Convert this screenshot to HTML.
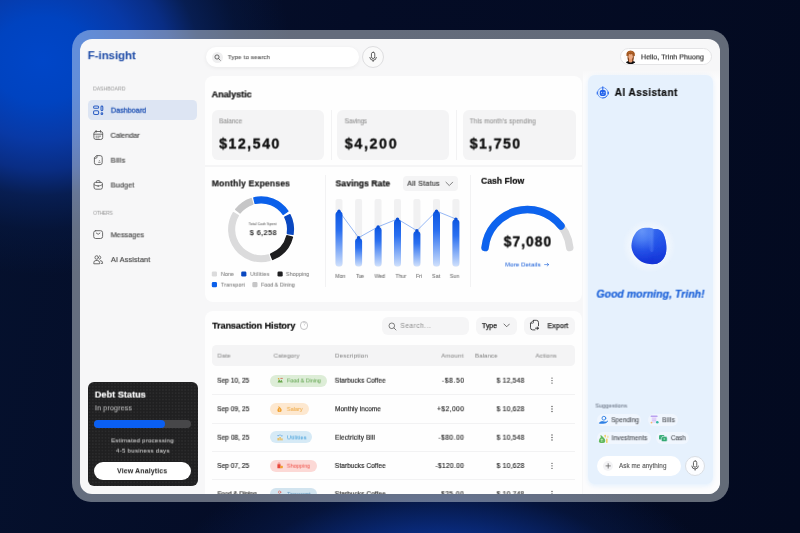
<!DOCTYPE html>
<html><head><meta charset="utf-8">
<style>
*{margin:0;padding:0;box-sizing:border-box}
html,body{width:800px;height:533px;overflow:hidden}
body{position:relative;font-family:"Liberation Sans",sans-serif;background:
 radial-gradient(ellipse 250px 215px at 42px 60px, #0046c8 0%, #0043c0 20%, #0839a6 37%, #092d84 51%, rgba(8,32,88,.85) 63%, rgba(6,24,66,.55) 79%, rgba(4,12,36,0) 100%),
 radial-gradient(ellipse 270px 120px at 440px 575px, #0b3aa8 0%, rgba(10,48,140,.85) 35%, rgba(8,30,85,.45) 70%, rgba(4,11,34,0) 100%),
 linear-gradient(100deg,#05112e 0%, #040c26 40%, #030a20 100%);}
.abs,.t,#page div,#page svg{position:absolute}
.t{left:0;top:0;white-space:pre;line-height:1;transform-origin:0 0;will-change:transform}
#frame{position:absolute;left:71.5px;top:30.2px;width:657.6px;height:472.3px;border-radius:19px;background:rgba(248,255,255,.395)}
#app{position:absolute;left:80px;top:38.8px;width:639.8px;height:455px;border-radius:12px;background:#f7f7f8;overflow:hidden}
#page{position:absolute;left:-80px;top:-38.8px;width:800px;height:533px}
.panel{background:#fefefe;border-radius:8px}
.card{background:#f4f4f5;border-radius:6px}
.pill{border-radius:99px}
</style></head>
<body>
<div id="frame"></div>
<div id="app"><div id="page">

<!-- header -->
<div class="pill" style="left:205.5px;top:47px;width:153px;height:20px;background:#fff;box-shadow:0 1px 4px rgba(0,0,0,.06)"></div>
<div class="pill" style="left:211.5px;top:51.5px;width:11px;height:11px;background:#efeff0"></div>
<svg style="left:213.5px;top:53.5px" width="7" height="7" viewBox="0 0 14 14"><circle cx="6" cy="6" r="4.2" fill="none" stroke="#444" stroke-width="1.5"/><path d="M9.2 9.2 L12.5 12.5" stroke="#444" stroke-width="1.5" stroke-linecap="round"/></svg>
<div class="pill" style="left:362.3px;top:46.2px;width:21.5px;height:21.5px;background:#fafafa;border:.8px solid #dedee0"></div>
<svg style="left:0;top:0" width="800" height="533" viewBox="0 0 800 533" fill="none" stroke="#3a3a3a" stroke-linecap="round" stroke-linejoin="round"><rect x="371.45" y="52.2" width="3.3" height="6.3" rx="1.65" stroke-width=".8" fill="#fff"/><path d="M369.8 57.4 Q370 60.2 373.1 60.3 Q376.2 60.2 376.4 57.4 M373.1 60.4 V61.5" stroke-width=".8"/></svg>
<div class="pill" style="left:619.5px;top:48.3px;width:92.5px;height:16.8px;background:#fff;border:1px solid #e4e4e6"></div>
<svg style="left:623.6px;top:49.8px" width="13.2" height="14.4" viewBox="623.6 49.8 13.2 14.4">
<defs><clipPath id="avc"><ellipse cx="630.2" cy="57" rx="6.5" ry="7.1"/></clipPath></defs>
<ellipse cx="630.2" cy="57" rx="6.5" ry="7.1" fill="#fdfbf9"/>
<g clip-path="url(#avc)">
<ellipse cx="630.3" cy="63.4" rx="5.2" ry="2.9" fill="#0e0e10"/>
<path d="M627.4 54 Q626.6 58 627.8 61.4 L629 61 L629 55 Z M633.1 54 Q634 58 632.8 61.4 L631.6 61 L631.6 55 Z" fill="#7c3c14"/>
<rect x="628.6" y="56.5" width="3.2" height="5.8" rx="1.2" fill="#e39b72"/>
<ellipse cx="630.2" cy="56.4" rx="2.3" ry="2.7" fill="#eeab82"/>
<path d="M626 55.6 Q625.6 50.4 630.2 50.2 Q634.9 50.4 634.5 55.6 Q633.6 56.6 632.6 55.2 Q631.4 53.4 630.2 54.2 Q628.8 53.4 627.8 55.2 Q626.8 56.6 626 55.6 Z" fill="#a3561e"/>
<path d="M628 52.4 Q630 50.9 632.4 52.2" stroke="#c47a3c" stroke-width=".7" fill="none"/>
</g></svg>

<!-- sidebar -->
<div style="left:88px;top:100px;width:108.8px;height:20.4px;border-radius:4.5px;background:#dde5f3"></div>

<!-- debt -->
<div id="debt" style="left:88px;top:382px;width:109.5px;height:103.6px;border-radius:6px;background-color:#202021;background-image:radial-gradient(rgba(255,255,255,.055) .55px, rgba(255,255,255,0) .8px);background-size:3.2px 3.2px"></div>
<div class="pill" style="left:94.4px;top:420px;width:96.4px;height:8.4px;background:#474749"></div>
<div class="pill" style="left:94.4px;top:420px;width:70.2px;height:8.4px;background:#0a5ff2"></div>
<div class="pill" style="left:94.4px;top:462px;width:96.4px;height:17.5px;background:#fff"></div>

<!-- top panel -->
<div class="panel" style="left:204.6px;top:76.4px;width:377px;height:225.6px"></div>
<div style="left:204.6px;top:164.5px;width:377px;height:2px;background:#f5f5f6"></div>
<div class="card" style="left:212px;top:110px;width:112px;height:50px"></div>
<div class="card" style="left:337px;top:110px;width:112px;height:50px"></div>
<div class="card" style="left:462.8px;top:110px;width:112.8px;height:50px"></div>
<div style="left:330.5px;top:110px;width:1px;height:50px;background:#f2f2f3"></div>
<div style="left:455.5px;top:110px;width:1px;height:50px;background:#f2f2f3"></div>
<div style="left:324.5px;top:175px;width:1px;height:112px;background:#f2f2f3"></div>
<div style="left:470.3px;top:175px;width:1px;height:112px;background:#f2f2f3"></div>

<svg style="left:0;top:0" width="800" height="533" viewBox="0 0 800 533">
<path d="M253.83 197.83 A32.3 32.3 0 0 1 287.88 211.24 L283.15 214.43 A26.6 26.6 0 0 0 255.12 203.38 Z" fill="#0b60ea" stroke="#0b60ea" stroke-width="1.4" stroke-linejoin="round"/>
<path d="M289.88 214.64 A32.3 32.3 0 0 1 293.00 234.35 L287.37 233.46 A26.6 26.6 0 0 0 284.80 217.22 Z" fill="#0a48c0" stroke="#0a48c0" stroke-width="1.4" stroke-linejoin="round"/>
<path d="M292.44 237.11 A32.3 32.3 0 0 1 272.68 259.45 L270.63 254.13 A26.6 26.6 0 0 0 286.91 235.74 Z" fill="#1e1e20" stroke="#1e1e20" stroke-width="1.4" stroke-linejoin="round"/>
<path d="M270.00 260.35 A32.3 32.3 0 0 1 233.41 212.66 L238.30 215.60 A26.6 26.6 0 0 0 268.43 254.87 Z" fill="#dbdbdc" stroke="#dbdbdc" stroke-width="1.4" stroke-linejoin="round"/>
<path d="M235.65 209.41 A32.3 32.3 0 0 1 251.12 198.58 L252.88 204.00 A26.6 26.6 0 0 0 240.14 212.92 Z" fill="#c6c6c7" stroke="#c6c6c7" stroke-width="1.4" stroke-linejoin="round"/>
<rect x="211.8" y="271.4" width="5.2" height="5.2" rx="1.3" fill="#dbdbdc"/>
<rect x="241.2" y="271.4" width="5.2" height="5.2" rx="1.3" fill="#0a48c0"/>
<rect x="277.5" y="271.4" width="5.2" height="5.2" rx="1.3" fill="#1e1e20"/>
<rect x="211.8" y="282.1" width="5.2" height="5.2" rx="1.3" fill="#0b60ea"/>
<rect x="252.3" y="282.1" width="5.2" height="5.2" rx="1.3" fill="#c6c6c7"/>
<defs><linearGradient id="bg" x1="0" y1="0" x2="0" y2="1"><stop offset="0" stop-color="#0d57e2"/><stop offset=".35" stop-color="#2a6ff0"/><stop offset="1" stop-color="#cfe0fc"/></linearGradient></defs>
<rect x="335.50" y="199" width="7.0" height="67.4" rx="2" fill="#f1f1f2"/>
<rect x="355.10" y="199" width="7.0" height="67.4" rx="2" fill="#f1f1f2"/>
<rect x="374.60" y="199" width="7.0" height="67.4" rx="2" fill="#f1f1f2"/>
<rect x="394.00" y="199" width="7.0" height="67.4" rx="2" fill="#f1f1f2"/>
<rect x="413.40" y="199" width="7.0" height="67.4" rx="2" fill="#f1f1f2"/>
<rect x="433.00" y="199" width="7.0" height="67.4" rx="2" fill="#f1f1f2"/>
<rect x="452.40" y="199" width="7.0" height="67.4" rx="2" fill="#f1f1f2"/>
<polyline points="339.0,211.1 358.6,237.7 378.1,226.8 397.5,219.0 416.9,230.7 436.5,211.1 455.9,219.0" fill="none" stroke="#3f7cec" stroke-width=".55"/>
<rect x="335.50" y="211.30" width="7.0" height="55.10" rx="3.5" fill="url(#bg)"/>
<circle cx="339" cy="211.20" r="1.7" fill="#0b4fd6"/>
<rect x="355.10" y="237.90" width="7.0" height="28.50" rx="3.5" fill="url(#bg)"/>
<circle cx="358.6" cy="237.80" r="1.7" fill="#0b4fd6"/>
<rect x="374.60" y="227.05" width="7.0" height="39.35" rx="3.5" fill="url(#bg)"/>
<circle cx="378.1" cy="226.95" r="1.7" fill="#0b4fd6"/>
<rect x="394.00" y="219.20" width="7.0" height="47.20" rx="3.5" fill="url(#bg)"/>
<circle cx="397.5" cy="219.10" r="1.7" fill="#0b4fd6"/>
<rect x="413.40" y="230.90" width="7.0" height="35.50" rx="3.5" fill="url(#bg)"/>
<circle cx="416.9" cy="230.80" r="1.7" fill="#0b4fd6"/>
<rect x="433.00" y="211.30" width="7.0" height="55.10" rx="3.5" fill="url(#bg)"/>
<circle cx="436.5" cy="211.20" r="1.7" fill="#0b4fd6"/>
<rect x="452.40" y="219.20" width="7.0" height="47.20" rx="3.5" fill="url(#bg)"/>
<circle cx="455.9" cy="219.10" r="1.7" fill="#0b4fd6"/>
<path d="M485.05 247.55 A42.6 42.6 0 0 1 569.75 247.55" fill="none" stroke="#dadadb" stroke-width="7.5" stroke-linecap="round"/>
<path d="M485.05 247.55 A42.6 42.6 0 0 1 560.97 225.92" fill="none" stroke="#0d63ee" stroke-width="7.5" stroke-linecap="round"/>
<path d="M544.6 264.6 H548.6 M547.2 263.2 L548.7 264.6 L547.2 266" fill="none" stroke="#1a5fd8" stroke-width=".6" stroke-linecap="round" stroke-linejoin="round"/>
</svg>
<!--BARS-->
<!--GAUGE-->

<!-- all status -->
<div style="left:402.8px;top:176px;width:55.2px;height:14.7px;border-radius:4px;background:#f4f4f5"></div>
<svg style="left:445.2px;top:180.6px" width="8.6" height="6.1" viewBox="0 0 14 10"><path d="M1.5 2 L7 7.5 L12.5 2" fill="none" stroke="#555" stroke-width="1.2" stroke-linecap="round" stroke-linejoin="round"/></svg>

<!-- transaction panel -->
<div class="panel" style="left:204.6px;top:310.5px;width:377px;height:200px"></div>
<div class="pill" style="left:299.8px;top:321.2px;width:8.4px;height:8.4px;border:0.8px solid #c4c4c6"></div>
<div class="t" style="left:302.7px;top:323px;font-size:4.8px;color:#b8b8ba">?</div>
<div style="left:382px;top:317px;width:87.2px;height:17.6px;border-radius:6px;background:#f5f5f6"></div>
<svg style="left:387.6px;top:321.6px" width="9" height="9" viewBox="0 0 18 18"><circle cx="7.6" cy="7.6" r="5.6" fill="none" stroke="#555" stroke-width="1.5"/><path d="M12 12 L16 16" stroke="#555" stroke-width="1.5" stroke-linecap="round"/></svg>
<div style="left:476.3px;top:317px;width:40.7px;height:17.6px;border-radius:6px;background:#f5f5f6"></div>
<svg style="left:502.8px;top:323.4px" width="7.4" height="5" viewBox="0 0 14 10"><path d="M1.5 2 L7 7.5 L12.5 2" fill="none" stroke="#444" stroke-width="1.5" stroke-linecap="round" stroke-linejoin="round"/></svg>
<div style="left:524.4px;top:317px;width:50.4px;height:17.6px;border-radius:6px;background:#f5f5f6"></div>
<div style="left:212px;top:345px;width:362.8px;height:21px;border-radius:4.5px;background:#f4f4f5"></div>
<div style="left:212px;top:394.3px;width:362.8px;height:.9px;background:#f2f2f3"></div>
<div style="left:212px;top:422.6px;width:362.8px;height:.9px;background:#f2f2f3"></div>
<div style="left:212px;top:451px;width:362.8px;height:.9px;background:#f2f2f3"></div>
<div style="left:212px;top:479.4px;width:362.8px;height:.9px;background:#f2f2f3"></div>
<!-- chips -->
<div class="pill" style="left:270.1px;top:374.5px;width:57.4px;height:12px;background:#ddedd7"></div>
<div class="pill" style="left:270.1px;top:403px;width:38.6px;height:12px;background:#fde8d0"></div>
<div class="pill" style="left:270.1px;top:431.4px;width:42.4px;height:12px;background:#d6eaf6"></div>
<div class="pill" style="left:270.1px;top:459.8px;width:46.6px;height:12px;background:#fcd9d6"></div>
<div class="pill" style="left:270.1px;top:488px;width:46.6px;height:12px;background:#d2e4ef"></div>
<!--ROWICONS-->

<!-- AI panel -->
<div style="left:583px;top:70px;width:137px;height:424px;background:linear-gradient(180deg,rgba(252,252,253,0),#fcfcfd 10px)"></div>
<div style="left:587.8px;top:75px;width:125.2px;height:408.5px;border-radius:7px;background:#e6f1fd;box-shadow:0 1.5px 4px 0 rgba(228,240,253,.95)"></div>
<!-- blob -->
<svg style="left:0;top:0" width="800" height="533" viewBox="0 0 800 533">
<defs>
<radialGradient id="bl1" cx="642" cy="231" r="31" gradientUnits="userSpaceOnUse"><stop offset="0" stop-color="#6594f8"/><stop offset=".3" stop-color="#4a7cf3"/><stop offset=".62" stop-color="#2653e8"/><stop offset="1" stop-color="#1434d8"/></radialGradient>
<linearGradient id="bl2" x1="0" y1="226" x2="0" y2="265" gradientUnits="userSpaceOnUse"><stop offset="0" stop-color="#3166ee"/><stop offset=".5" stop-color="#2150e8"/><stop offset="1" stop-color="#1433d4"/></linearGradient>
<linearGradient id="bl3" x1="648" y1="0" x2="655" y2="0" gradientUnits="userSpaceOnUse"><stop offset="0" stop-color="#6f9bfa" stop-opacity="0"/><stop offset=".55" stop-color="#6f9bfa" stop-opacity=".28"/><stop offset="1" stop-color="#6f9bfa" stop-opacity="0"/></linearGradient>
<clipPath id="blc"><path d="M635.50 233.20 C636.57 231.62 637.60 230.67 638.90 229.80 C640.20 228.93 641.28 228.32 643.30 228.00 C645.32 227.68 649.28 227.73 651.00 227.90 C652.72 228.07 652.45 228.78 653.60 229.00 C654.75 229.22 656.32 228.50 657.90 229.20 C659.48 229.90 661.73 230.80 663.10 233.20 C664.47 235.60 665.67 240.15 666.10 243.60 C666.53 247.05 666.63 250.88 665.70 253.90 C664.77 256.92 662.65 259.97 660.50 261.70 C658.35 263.43 655.67 264.15 652.80 264.30 C649.93 264.45 646.18 263.90 643.30 262.60 C640.42 261.30 637.45 258.95 635.50 256.50 C633.55 254.05 632.10 250.77 631.60 247.90 C631.10 245.03 631.85 241.75 632.50 239.30 C633.15 236.85 634.43 234.78 635.50 233.20Z"/></clipPath>
<filter id="blf" x="-20%" y="-20%" width="140%" height="140%"><feGaussianBlur stdDeviation=".45"/></filter>
<radialGradient id="blg" cx="649" cy="246" r="27" gradientUnits="userSpaceOnUse"><stop offset=".6" stop-color="#fff" stop-opacity=".55"/><stop offset="1" stop-color="#fff" stop-opacity="0"/></radialGradient>
</defs>
<circle cx="649" cy="246" r="27" fill="url(#blg)"/>
<g filter="url(#blf)">
<path d="M635.50 233.20 C636.57 231.62 637.60 230.67 638.90 229.80 C640.20 228.93 641.28 228.32 643.30 228.00 C645.32 227.68 649.28 227.73 651.00 227.90 C652.72 228.07 652.45 228.78 653.60 229.00 C654.75 229.22 656.32 228.50 657.90 229.20 C659.48 229.90 661.73 230.80 663.10 233.20 C664.47 235.60 665.67 240.15 666.10 243.60 C666.53 247.05 666.63 250.88 665.70 253.90 C664.77 256.92 662.65 259.97 660.50 261.70 C658.35 263.43 655.67 264.15 652.80 264.30 C649.93 264.45 646.18 263.90 643.30 262.60 C640.42 261.30 637.45 258.95 635.50 256.50 C633.55 254.05 632.10 250.77 631.60 247.90 C631.10 245.03 631.85 241.75 632.50 239.30 C633.15 236.85 634.43 234.78 635.50 233.20Z" fill="url(#bl1)"/>
<g clip-path="url(#blc)">
<path d="M654 224 C653.2 240 652.8 252 654.2 268 H670 V224 Z" fill="url(#bl2)" opacity=".7"/>
<path d="M648 226 H655 V246 C654 254 650 254 648 246 Z" fill="url(#bl3)"/>
</g>
</g>
</svg>
<!-- suggestion chips -->
<div class="pill" style="left:597px;top:414.4px;width:44.4px;height:11.4px;background:#f0f6fe"></div>
<div class="pill" style="left:647.6px;top:414.4px;width:30.6px;height:11.4px;background:#f0f6fe"></div>
<div class="pill" style="left:597px;top:432.4px;width:53.7px;height:11.4px;background:#f0f6fe"></div>
<div class="pill" style="left:655.8px;top:432.4px;width:33px;height:11.4px;background:#f0f6fe"></div>
<!-- input -->
<div class="pill" style="left:596.5px;top:456px;width:84px;height:19.6px;background:#fff"></div>
<div class="pill" style="left:603.2px;top:460.9px;width:10px;height:10px;background:#f3f3f5"></div>
<div class="pill" style="left:684.8px;top:455.5px;width:20.6px;height:20.6px;background:#fcfdff;border:.8px solid #d9dde3"></div>
<svg style="left:0;top:0" width="800" height="533" viewBox="0 0 800 533" fill="none" stroke-linecap="round" stroke-linejoin="round">
<path d="M606 465.9 H610.4 M608.2 463.7 V468.1" stroke="#555" stroke-width=".7"/>
<!-- mic -->
<rect x="693.45" y="460.9" width="3.3" height="6.3" rx="1.65" stroke="#3a3a3a" stroke-width=".8" fill="#fff"/>
<path d="M691.8 466.1 Q692 468.9 695.1 469 Q698.2 468.9 698.4 466.1 M695.1 469.1 V470.2" stroke="#3a3a3a" stroke-width=".8"/>
<!-- spending icon -->
<circle cx="603.9" cy="418.2" r="1.9" stroke="#2f80e4" stroke-width=".9"/>
<path d="M599.6 422.4 Q602 420.6 604.4 421.8 Q606.4 422.2 608 420.9 Q606.4 423.6 603 423.5 H599.6 Z" fill="#2f80e4" stroke="#2f80e4" stroke-width=".5"/>
<!-- bills icon -->
<rect x="650.6" y="415.6" width="7" height="1.5" rx=".6" fill="#b9a3f0"/>
<rect x="651.6" y="417.1" width="5" height="6" rx=".6" fill="#e9ddfb"/>
<path d="M652.6 419 H655.6 M652.6 420.6 H655.6" stroke="#c4aef2" stroke-width=".55"/>
<circle cx="657.3" cy="422.2" r="1.3" fill="#37b7a4"/>
<circle cx="651.5" cy="422.6" r=".9" fill="#f5b971"/>
<!-- investments icon -->
<path d="M601.6 435.6 L603 437 Q606 439.4 605 442 Q604.6 443 603 443 H600.6 Q599 443 598.8 441.6 Q598.6 439 601 437 L600 435.6 Z" fill="#62b85e"/>
<path d="M601.8 439 V441.6 M601 439.6 H602.6" stroke="#eaf7e6" stroke-width=".5"/>
<rect x="606.2" y="438.6" width="1.3" height="4.4" rx=".4" fill="#f2c94c"/>
<rect x="604.6" y="434.8" width="1.2" height="2.6" rx=".4" fill="#f2c94c"/>
<rect x="607.4" y="435.6" width="1" height="2.4" rx=".4" fill="#f5d777"/>
<!-- cash icon -->
<rect x="659" y="435" width="5.4" height="4.6" rx="1.2" fill="#3fb07c"/>
<rect x="661.4" y="436.6" width="5.8" height="5" rx="1.4" fill="#35a873" stroke="#eef5fd" stroke-width=".5"/>
<circle cx="664.3" cy="439.1" r="1" fill="#7fd3aa"/>
<!-- table chip icons -->
<path d="M277.6 382.6 L279 379.2 L280.6 381 L281.6 379.8 L282.8 382.6 Z" fill="#6aa84f"/>
<circle cx="278.6" cy="378.8" r=".8" fill="#e0a030"/>
<path d="M280.8 378.4 h1.6" stroke="#d0483c" stroke-width=".7"/>
<path d="M279 406.4 L280.2 407.6 Q282.2 409.4 281.6 411 Q281.2 412 280 412 H279 Q277.6 412 277.4 410.8 Q277.2 409 278.8 407.6 L278 406.4 Z" fill="#f0a030"/>
<path d="M279.6 409 V411" stroke="#fdf0d8" stroke-width=".45"/>
<g fill="#f0b030"><rect x="277.6" y="438" width="1.1" height="2.4"/><rect x="279.5" y="437" width="1.1" height="3.4"/><rect x="281.4" y="438.4" width="1.1" height="2"/></g>
<g fill="#3b8fd8"><circle cx="278.1" cy="435.6" r=".6"/><circle cx="280" cy="435" r=".6"/><circle cx="281.9" cy="435.8" r=".6"/></g>
<rect x="277.4" y="464.2" width="3.2" height="4" rx=".5" fill="#e8483c"/>
<rect x="280.2" y="465.8" width="2.6" height="2.4" rx=".4" fill="#f0a030"/>
<path d="M278.2 464.2 v-.7 a.8 .8 0 0 1 1.6 0 v.7" stroke="#e8483c" stroke-width=".45"/>
<circle cx="279.6" cy="492.2" r="1.2" fill="none" stroke="#e0685c" stroke-width=".7"/>
</svg>


<svg style="left:0;top:0" width="800" height="533" viewBox="0 0 800 533" fill="none" stroke-linecap="round" stroke-linejoin="round">
<!-- dashboard icon -->
<g stroke="#2d5fc4" stroke-width="1.05">
<rect x="93.55" y="106" width="5.1" height="2.3" rx="1.15"/>
<rect x="93.55" y="110.7" width="5.1" height="3.8" rx="1.3"/>
<rect x="101" y="106" width="1.8" height="4.6" rx=".9"/>
<circle cx="101.9" cy="113.65" r=".85"/>
</g>
<!-- calendar -->
<g stroke="#555" stroke-width=".85">
<rect x="93.9" y="131.5" width="8.8" height="8" rx="2"/>
<path d="M94 134.2 H102.6 M96.1 130.5 V132.2 M100.5 130.5 V132.2"/>
<path d="M96 136.2 H97 M98 136.2 H100.6 M96 137.9 H97 M98 137.9 H99" stroke-width=".7"/>
</g>
<!-- bills -->
<g stroke="#555" stroke-width=".85">
<path d="M97 155.6 H100.2 a2 2 0 0 1 2 2 V162.6 a2 2 0 0 1 -2 2 H96.4 a2 2 0 0 1 -2 -2 V158.2 Z"/>
<path d="M97 155.7 V157.2 a1 1 0 0 1 -1 1 H94.5"/>
<path d="M98.6 162.3 H100.2 M99.4 160.6 V160.7" stroke-width=".7"/>
</g>
<!-- budget -->
<g stroke="#555" stroke-width=".85">
<path d="M94 183.6 a1.2 1.2 0 0 1 1.2 -1.2 H101.2 a1.2 1.2 0 0 1 1.2 1.2 V187.4 a1.8 1.8 0 0 1 -1.8 1.8 H95.8 a1.8 1.8 0 0 1 -1.8 -1.8 Z"/>
<path d="M96.4 182.3 V181.6 a1 1 0 0 1 1 -1 H99 a1 1 0 0 1 1 1 V182.3"/>
<path d="M94.1 184.6 C96 186.4 100.4 186.4 102.3 184.6 M98.2 185.6 V186.6"/>
</g>
<!-- messages -->
<g stroke="#555" stroke-width=".85">
<rect x="93.7" y="230.7" width="8.9" height="7.8" rx="2"/>
<path d="M96.4 233.1 L98.15 234.3 L99.9 233.1"/>
</g>
<!-- ai assistant (people) -->
<g stroke="#555" stroke-width=".85">
<circle cx="96.7" cy="257.5" r="1.75"/>
<path d="M93.8 263.4 V262.7 a2.2 2.2 0 0 1 2.2 -2.2 H97.4 a2.2 2.2 0 0 1 2.2 2.2 V263.4 Z"/>
<path d="M99.4 255.8 a1.75 1.75 0 0 1 0 3.4 M100.4 260.6 a2.2 2.2 0 0 1 2.2 2.2 V263.4 H101.2"/>
</g>
<!-- AI panel icon -->
<g>
<circle cx="602.8" cy="92.8" r="5.2" stroke="#5f93f4" stroke-width=".9"/>
<rect x="596.7" y="91.6" width="1.1" height="2.8" rx=".5" fill="#2d6bec" stroke="none"/>
<rect x="607.8" y="91.6" width="1.1" height="2.8" rx=".5" fill="#2d6bec" stroke="none"/>
<path d="M602.8 86.8 V90.2" stroke="#1d5eea" stroke-width="1"/>
<rect x="599.8" y="90" width="6" height="5.9" rx="1.7" fill="#1d5eea" stroke="none"/>
<circle cx="601.6" cy="92.3" r=".6" fill="#cfe0ff" stroke="none"/>
<circle cx="604" cy="92.3" r=".6" fill="#cfe0ff" stroke="none"/>
<path d="M601.6 94.1 Q602.8 95 604 94.1" stroke="#cfe0ff" stroke-width=".5"/>
<path d="M607.2 96 Q605.8 98.2 602.6 98" stroke="#2d6bec" stroke-width=".8"/>
</g>
<!-- export icon -->
<g stroke="#2e2e30" stroke-width=".85">
<path d="M535 329.9 H532.7 a2.2 2.2 0 0 1 -2.2 -2.2 V323.2 L533.4 320.3 H536.3 a2.2 2.2 0 0 1 2.2 2.2 V325.8"/>
<path d="M533.5 320.5 V322.4 a.8 .8 0 0 1 -.8 .8 H530.7" stroke-width=".7"/>
<path d="M535.4 328.2 H537.8" stroke-width=".8"/>
<path d="M537.3 326.9 L539 328.2 L537.3 329.5 Z" fill="#2e2e30" stroke-width=".4"/>
</g>
<!-- row action dots -->
<g fill="#444" stroke="none">
<circle cx="552" cy="378.1" r=".65"/><circle cx="552" cy="380.6" r=".65"/><circle cx="552" cy="383.1" r=".65"/>
<circle cx="552" cy="406.5" r=".65"/><circle cx="552" cy="409" r=".65"/><circle cx="552" cy="411.5" r=".65"/>
<circle cx="552" cy="435" r=".65"/><circle cx="552" cy="437.5" r=".65"/><circle cx="552" cy="440" r=".65"/>
<circle cx="552" cy="463.3" r=".65"/><circle cx="552" cy="465.8" r=".65"/><circle cx="552" cy="468.3" r=".65"/>
<circle cx="552" cy="491.5" r=".65"/><circle cx="552" cy="494" r=".65"/>
</g>
</svg>

<div class="t" style="transform:translate(87.67px,49.20px) rotate(.05deg);font-size:11.6px;font-weight:700;letter-spacing:-0.093px;color:#1b49a6;">F-insight</div>
<div class="t" style="transform:translate(227.78px,54.11px) rotate(.05deg);font-size:6.2px;letter-spacing:0.130px;-webkit-text-stroke:0.12px #555;color:#555;">Type to search</div>
<div class="t" style="transform:translate(641.00px,53.37px) rotate(.05deg);font-size:7px;letter-spacing:0.077px;-webkit-text-stroke:0.18px #333;color:#333;">Hello, Trinh Phuong</div>
<div class="t" style="transform:translate(93.07px,86.51px) rotate(.05deg);font-size:5.2px;letter-spacing:-0.051px;color:#9a9a9a;">DASHBOARD</div>
<div class="t" style="transform:translate(110.86px,106.70px) rotate(.05deg);font-size:7.3px;letter-spacing:-0.047px;-webkit-text-stroke:0.32px #2d5cb8;color:#2d5cb8;">Dashboard</div>
<div class="t" style="transform:translate(110.50px,131.80px) rotate(.05deg);font-size:7.3px;letter-spacing:-0.063px;-webkit-text-stroke:0.16px #444;color:#444;">Calendar</div>
<div class="t" style="transform:translate(110.66px,156.70px) rotate(.05deg);font-size:7.3px;letter-spacing:0.312px;-webkit-text-stroke:0.16px #444;color:#444;">Bills</div>
<div class="t" style="transform:translate(110.68px,181.50px) rotate(.05deg);font-size:7.3px;letter-spacing:0.105px;-webkit-text-stroke:0.16px #444;color:#444;">Budget</div>
<div class="t" style="transform:translate(93.12px,210.76px) rotate(.05deg);font-size:5.2px;letter-spacing:-0.362px;color:#9a9a9a;">OTHERS</div>
<div class="t" style="transform:translate(110.69px,231.30px) rotate(.05deg);font-size:7.3px;letter-spacing:0.019px;-webkit-text-stroke:0.16px #444;color:#444;">Messages</div>
<div class="t" style="transform:translate(110.90px,256.10px) rotate(.05deg);font-size:7.3px;letter-spacing:0.100px;-webkit-text-stroke:0.16px #444;color:#444;">AI Assistant</div>
<div class="t" style="transform:translate(94.84px,390.56px) rotate(.05deg);font-size:9px;font-weight:700;letter-spacing:0.086px;-webkit-text-stroke:0.15px #fff;color:#fff;">Debt Status</div>
<div class="t" style="transform:translate(94.92px,404.37px) rotate(.05deg);font-size:7px;letter-spacing:0.197px;-webkit-text-stroke:0.1px #b4b4b4;color:#b4b4b4;">In progress</div>
<div class="t" style="transform:translate(111.20px,437.40px) rotate(.05deg);font-size:6px;letter-spacing:0.273px;-webkit-text-stroke:0.1px #c4c4c4;color:#c4c4c4;">Estimated processing</div>
<div class="t" style="transform:translate(116.07px,447.60px) rotate(.05deg);font-size:6px;letter-spacing:0.315px;-webkit-text-stroke:0.1px #c4c4c4;color:#c4c4c4;">4-5 business days</div>
<div class="t" style="transform:translate(117.05px,467.27px) rotate(.05deg);font-size:7px;font-weight:700;letter-spacing:0.114px;color:#222;">View Analytics</div>
<div class="t" style="transform:translate(211.58px,90.41px) rotate(.05deg);font-size:9.2px;font-weight:700;letter-spacing:-0.085px;-webkit-text-stroke:0.2px #0c0c0c;color:#0c0c0c;">Analystic</div>
<div class="t" style="transform:translate(219.24px,118.36px) rotate(.05deg);font-size:6.3px;letter-spacing:0.035px;-webkit-text-stroke:0.08px #8e8e8e;color:#8e8e8e;">Balance</div>
<div class="t" style="transform:translate(219.20px,136.53px) rotate(.05deg);font-size:14.2px;font-weight:700;letter-spacing:1.484px;-webkit-text-stroke:0.35px #0c0c0c;color:#0c0c0c;">$12,540</div>
<div class="t" style="transform:translate(344.71px,118.36px) rotate(.05deg);font-size:6.3px;letter-spacing:-0.022px;-webkit-text-stroke:0.08px #8e8e8e;color:#8e8e8e;">Savings</div>
<div class="t" style="transform:translate(344.78px,136.53px) rotate(.05deg);font-size:14.2px;font-weight:700;letter-spacing:1.690px;-webkit-text-stroke:0.35px #0c0c0c;color:#0c0c0c;">$4,200</div>
<div class="t" style="transform:translate(469.68px,118.36px) rotate(.05deg);font-size:6.3px;letter-spacing:0.166px;-webkit-text-stroke:0.08px #8e8e8e;color:#8e8e8e;">This month&#x27;s spending</div>
<div class="t" style="transform:translate(469.71px,136.53px) rotate(.05deg);font-size:14.2px;font-weight:700;letter-spacing:1.403px;-webkit-text-stroke:0.35px #0c0c0c;color:#0c0c0c;">$1,750</div>
<div class="t" style="transform:translate(211.76px,179.40px) rotate(.05deg);font-size:8.6px;font-weight:700;letter-spacing:0.180px;-webkit-text-stroke:0.2px #1a1a1a;color:#1a1a1a;">Monthly Expenses</div>
<div class="t" style="transform:translate(335.55px,179.40px) rotate(.05deg);font-size:8.6px;font-weight:700;letter-spacing:0.059px;-webkit-text-stroke:0.2px #0c0c0c;color:#0c0c0c;">Savings Rate</div>
<div class="t" style="transform:translate(407.33px,179.77px) rotate(.05deg);font-size:7px;letter-spacing:0.307px;-webkit-text-stroke:0.18px #333;color:#333;">All Status</div>
<div class="t" style="transform:translate(481.06px,176.80px) rotate(.05deg);font-size:8.6px;font-weight:700;letter-spacing:0.021px;-webkit-text-stroke:0.2px #0c0c0c;color:#0c0c0c;">Cash Flow</div>
<div class="t" style="transform:translate(248.65px,223.18px) rotate(.05deg);font-size:3.3px;letter-spacing:0.167px;color:#333;">Total Cash Spent</div>
<div class="t" style="transform:translate(249.67px,229.11px) rotate(.05deg);font-size:7.5px;font-weight:700;letter-spacing:0.312px;color:#333;">$ 6,258</div>
<div class="t" style="transform:translate(220.89px,271.91px) rotate(.05deg);font-size:5.4px;letter-spacing:0.065px;-webkit-text-stroke:0.08px #808080;color:#808080;">None</div>
<div class="t" style="transform:translate(250.27px,271.91px) rotate(.05deg);font-size:5.4px;letter-spacing:0.214px;-webkit-text-stroke:0.08px #808080;color:#808080;">Utilities</div>
<div class="t" style="transform:translate(285.89px,271.91px) rotate(.05deg);font-size:5.4px;letter-spacing:0.078px;-webkit-text-stroke:0.08px #808080;color:#808080;">Shopping</div>
<div class="t" style="transform:translate(220.88px,282.61px) rotate(.05deg);font-size:5.4px;letter-spacing:0.141px;-webkit-text-stroke:0.08px #808080;color:#808080;">Transport</div>
<div class="t" style="transform:translate(261.08px,282.61px) rotate(.05deg);font-size:5.4px;letter-spacing:-0.035px;-webkit-text-stroke:0.08px #808080;color:#808080;">Food &amp; Dining</div>
<div class="t" style="transform:translate(335.28px,273.91px) rotate(.05deg);font-size:5.4px;letter-spacing:-0.086px;-webkit-text-stroke:0.08px #767676;color:#767676;">Mon</div>
<div class="t" style="transform:translate(356.07px,273.91px) rotate(.05deg);font-size:5.4px;letter-spacing:-0.536px;-webkit-text-stroke:0.08px #767676;color:#767676;">Tue</div>
<div class="t" style="transform:translate(374.51px,273.91px) rotate(.05deg);font-size:5.4px;letter-spacing:-0.259px;-webkit-text-stroke:0.08px #767676;color:#767676;">Wed</div>
<div class="t" style="transform:translate(395.48px,273.91px) rotate(.05deg);font-size:5.4px;letter-spacing:-0.097px;-webkit-text-stroke:0.08px #767676;color:#767676;">Thur</div>
<div class="t" style="transform:translate(416.00px,273.91px) rotate(.05deg);font-size:5.4px;letter-spacing:-0.218px;-webkit-text-stroke:0.08px #767676;color:#767676;">Fri</div>
<div class="t" style="transform:translate(432.00px,273.91px) rotate(.05deg);font-size:5.4px;letter-spacing:0.124px;-webkit-text-stroke:0.08px #767676;color:#767676;">Sat</div>
<div class="t" style="transform:translate(449.84px,273.91px) rotate(.05deg);font-size:5.4px;letter-spacing:-0.010px;-webkit-text-stroke:0.08px #767676;color:#767676;">Sun</div>
<div class="t" style="transform:translate(503.72px,235.44px) rotate(.05deg);font-size:13.8px;font-weight:700;letter-spacing:1.028px;-webkit-text-stroke:0.35px #0c0c0c;color:#0c0c0c;">$7,080</div>
<div class="t" style="transform:translate(505.20px,261.50px) rotate(.05deg);font-size:6px;letter-spacing:0.156px;-webkit-text-stroke:0.04px #1a5fd8;color:#1a5fd8;">More Details</div>
<div class="t" style="transform:translate(212.13px,321.66px) rotate(.05deg);font-size:9.2px;font-weight:700;letter-spacing:-0.136px;-webkit-text-stroke:0.2px #0c0c0c;color:#0c0c0c;">Transaction History</div>
<div class="t" style="transform:translate(400.43px,322.93px) rotate(.05deg);font-size:6.5px;letter-spacing:0.541px;color:#888;">Search...</div>
<div class="t" style="transform:translate(481.90px,322.07px) rotate(.05deg);font-size:7px;letter-spacing:-0.011px;-webkit-text-stroke:0.25px #222;color:#222;">Type</div>
<div class="t" style="transform:translate(547.50px,322.07px) rotate(.05deg);font-size:7px;letter-spacing:0.105px;-webkit-text-stroke:0.25px #222;color:#222;">Export</div>
<div class="t" style="transform:translate(217.50px,352.61px) rotate(.05deg);font-size:6.2px;letter-spacing:0.057px;-webkit-text-stroke:0.06px #8c8c8c;color:#8c8c8c;">Date</div>
<div class="t" style="transform:translate(273.57px,352.61px) rotate(.05deg);font-size:6.2px;letter-spacing:0.102px;-webkit-text-stroke:0.06px #8c8c8c;color:#8c8c8c;">Category</div>
<div class="t" style="transform:translate(335.00px,352.61px) rotate(.05deg);font-size:6.2px;letter-spacing:0.191px;-webkit-text-stroke:0.06px #8c8c8c;color:#8c8c8c;">Description</div>
<div class="t" style="transform:translate(441.30px,352.61px) rotate(.05deg);font-size:6.2px;letter-spacing:0.160px;-webkit-text-stroke:0.06px #8c8c8c;color:#8c8c8c;">Amount</div>
<div class="t" style="transform:translate(475.00px,352.61px) rotate(.05deg);font-size:6.2px;letter-spacing:0.049px;-webkit-text-stroke:0.06px #8c8c8c;color:#8c8c8c;">Balance</div>
<div class="t" style="transform:translate(535.50px,352.61px) rotate(.05deg);font-size:6.2px;letter-spacing:0.136px;-webkit-text-stroke:0.06px #8c8c8c;color:#8c8c8c;">Actions</div>
<div class="t" style="transform:translate(217.28px,377.73px) rotate(.05deg);font-size:6.5px;letter-spacing:0.055px;-webkit-text-stroke:0.14px #1a1a1a;color:#1a1a1a;">Sep 10, 25</div>
<div class="t" style="transform:translate(334.82px,377.73px) rotate(.05deg);font-size:6.5px;letter-spacing:0.067px;-webkit-text-stroke:0.14px #1a1a1a;color:#1a1a1a;">Starbucks Coffee</div>
<div class="t" style="transform:translate(441.89px,377.73px) rotate(.05deg);font-size:6.5px;letter-spacing:0.740px;-webkit-text-stroke:0.14px #1a1a1a;color:#1a1a1a;">-$8.50</div>
<div class="t" style="transform:translate(496.68px,377.73px) rotate(.05deg);font-size:6.5px;letter-spacing:0.313px;-webkit-text-stroke:0.14px #1a1a1a;color:#1a1a1a;">$ 12,548</div>
<div class="t" style="transform:translate(217.27px,406.23px) rotate(.05deg);font-size:6.5px;letter-spacing:0.063px;-webkit-text-stroke:0.14px #1a1a1a;color:#1a1a1a;">Sep 09, 25</div>
<div class="t" style="transform:translate(335.00px,406.23px) rotate(.05deg);font-size:6.5px;letter-spacing:-0.005px;-webkit-text-stroke:0.14px #1a1a1a;color:#1a1a1a;">Monthly Income</div>
<div class="t" style="transform:translate(437.13px,406.23px) rotate(.05deg);font-size:6.5px;letter-spacing:0.520px;-webkit-text-stroke:0.14px #1a1a1a;color:#1a1a1a;">+$2,000</div>
<div class="t" style="transform:translate(496.68px,406.23px) rotate(.05deg);font-size:6.5px;letter-spacing:0.318px;-webkit-text-stroke:0.14px #1a1a1a;color:#1a1a1a;">$ 10,628</div>
<div class="t" style="transform:translate(217.27px,434.73px) rotate(.05deg);font-size:6.5px;letter-spacing:0.067px;-webkit-text-stroke:0.14px #1a1a1a;color:#1a1a1a;">Sep 08, 25</div>
<div class="t" style="transform:translate(335.00px,434.73px) rotate(.05deg);font-size:6.5px;letter-spacing:0.109px;-webkit-text-stroke:0.14px #1a1a1a;color:#1a1a1a;">Electricity Bill</div>
<div class="t" style="transform:translate(438.41px,434.73px) rotate(.05deg);font-size:6.5px;letter-spacing:0.563px;-webkit-text-stroke:0.14px #1a1a1a;color:#1a1a1a;">-$80.00</div>
<div class="t" style="transform:translate(496.68px,434.73px) rotate(.05deg);font-size:6.5px;letter-spacing:0.314px;-webkit-text-stroke:0.14px #1a1a1a;color:#1a1a1a;">$ 10,548</div>
<div class="t" style="transform:translate(217.31px,462.98px) rotate(.05deg);font-size:6.5px;letter-spacing:0.046px;-webkit-text-stroke:0.14px #1a1a1a;color:#1a1a1a;">Sep 07, 25</div>
<div class="t" style="transform:translate(334.82px,462.98px) rotate(.05deg);font-size:6.5px;letter-spacing:0.067px;-webkit-text-stroke:0.14px #1a1a1a;color:#1a1a1a;">Starbucks Coffee</div>
<div class="t" style="transform:translate(435.44px,462.98px) rotate(.05deg);font-size:6.5px;letter-spacing:0.397px;-webkit-text-stroke:0.14px #1a1a1a;color:#1a1a1a;">-$120.00</div>
<div class="t" style="transform:translate(496.68px,462.98px) rotate(.05deg);font-size:6.5px;letter-spacing:0.318px;-webkit-text-stroke:0.14px #1a1a1a;color:#1a1a1a;">$ 10,628</div>
<div class="t" style="transform:translate(217.50px,491.23px) rotate(.05deg);font-size:6.5px;letter-spacing:-0.152px;-webkit-text-stroke:0.14px #1a1a1a;color:#1a1a1a;">Food &amp; Dining</div>
<div class="t" style="transform:translate(334.82px,491.23px) rotate(.05deg);font-size:6.5px;letter-spacing:0.067px;-webkit-text-stroke:0.14px #1a1a1a;color:#1a1a1a;">Starbucks Coffee</div>
<div class="t" style="transform:translate(438.42px,491.23px) rotate(.05deg);font-size:6.5px;letter-spacing:0.558px;-webkit-text-stroke:0.14px #1a1a1a;color:#1a1a1a;">-$25.00</div>
<div class="t" style="transform:translate(496.68px,491.23px) rotate(.05deg);font-size:6.5px;letter-spacing:0.304px;-webkit-text-stroke:0.14px #1a1a1a;color:#1a1a1a;">$ 10,748</div>
<div class="t" style="transform:translate(287.06px,378.42px) rotate(.05deg);font-size:5.5px;letter-spacing:-0.088px;-webkit-text-stroke:0.06px #6dab5b;color:#6dab5b;">Food &amp; Dining</div>
<div class="t" style="transform:translate(286.85px,406.92px) rotate(.05deg);font-size:5.5px;letter-spacing:0.008px;-webkit-text-stroke:0.06px #eeab4a;color:#eeab4a;">Salary</div>
<div class="t" style="transform:translate(287.04px,435.42px) rotate(.05deg);font-size:5.5px;letter-spacing:0.230px;-webkit-text-stroke:0.06px #4aa3dc;color:#4aa3dc;">Utilities</div>
<div class="t" style="transform:translate(286.77px,463.67px) rotate(.05deg);font-size:5.5px;letter-spacing:0.005px;-webkit-text-stroke:0.06px #f0625a;color:#f0625a;">Shopping</div>
<div class="t" style="transform:translate(287.09px,491.92px) rotate(.05deg);font-size:5.5px;letter-spacing:0.020px;-webkit-text-stroke:0.06px #6a9bc0;color:#6a9bc0;">Transport</div>
<div class="t" style="transform:translate(614.71px,87.99px) rotate(.05deg);font-size:10px;font-weight:700;letter-spacing:0.467px;-webkit-text-stroke:0.2px #0c0c0c;color:#0c0c0c;">AI Assistant</div>
<div class="t" style="transform:translate(596.43px,288.63px) rotate(.05deg);font-size:10.5px;font-weight:700;letter-spacing:0.031px;font-style:italic;-webkit-text-stroke:0.2px #1a60d8;color:#1a60d8;">Good morning, Trinh!</div>
<div class="t" style="transform:translate(595.41px,403.52px) rotate(.05deg);font-size:5.6px;letter-spacing:0.100px;-webkit-text-stroke:0.1px #727d8d;color:#727d8d;">Suggestions</div>
<div class="t" style="transform:translate(611.34px,417.23px) rotate(.05deg);font-size:6.5px;letter-spacing:0.033px;-webkit-text-stroke:0.1px #484c52;color:#484c52;">Spending</div>
<div class="t" style="transform:translate(662.26px,417.23px) rotate(.05deg);font-size:6.5px;letter-spacing:0.198px;-webkit-text-stroke:0.1px #484c52;color:#484c52;">Bills</div>
<div class="t" style="transform:translate(611.60px,435.23px) rotate(.05deg);font-size:6.5px;letter-spacing:0.072px;-webkit-text-stroke:0.1px #484c52;color:#484c52;">Investments</div>
<div class="t" style="transform:translate(670.87px,435.23px) rotate(.05deg);font-size:6.5px;letter-spacing:-0.128px;-webkit-text-stroke:0.1px #484c52;color:#484c52;">Cash</div>
<div class="t" style="transform:translate(619.02px,463.01px) rotate(.05deg);font-size:6.3px;letter-spacing:0.060px;-webkit-text-stroke:0.12px #555;color:#555;">Ask me anything</div>
</div></div>
</body></html>
